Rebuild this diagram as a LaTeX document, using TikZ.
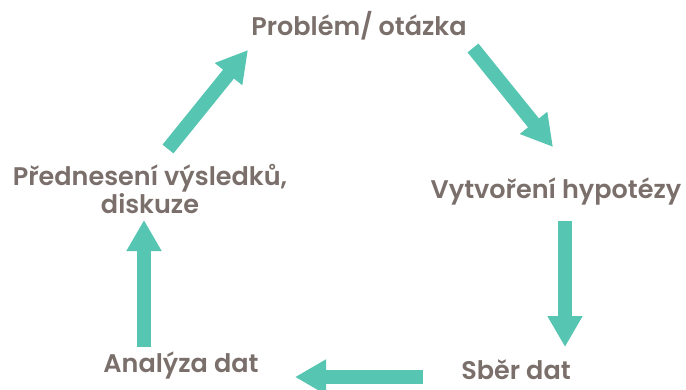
\documentclass[tikz,border=0pt]{standalone}
\usepackage{fontspec}
\setmainfont{Poppins}[BoldFont={Poppins SemiBold}]
\usetikzlibrary{arrows.meta}
\definecolor{txtgray}{RGB}{122,111,107}
\definecolor{teal}{RGB}{86,197,177}
\tikzset{
  lbl/.style={anchor=base, text=txtgray, font=\fontsize{25.5}{30}\selectfont\bfseries, inner sep=0pt},
  blockarrow/.style={draw=teal, line width=14pt, -{Triangle[length=31pt,width=33pt]}}
}
\begin{document}
\begin{tikzpicture}[x=1pt,y=-1pt]
\useasboundingbox (0,0) rectangle (686,389);
\node[lbl] (problem) at (359,35) {Problém/ otázka};
\node[lbl] (hypo) at (556,198) {Vytvoření hypotézy};
\node[lbl] (pred1) at (150,185) {Přednesení výsledků,};
\node[lbl] (pred2) at (150,213) {diskuze};
\node[lbl] (anal) at (181,372) {Analýza dat};
\node[lbl] (sber) at (516,379) {Sběr dat};
\coordinate (a1s) at (168,149);
\coordinate (a1e) at (248,50);
\coordinate (a2s) at (473,48);
\coordinate (a2e) at (553,147);
\coordinate (a3s) at (565,221);
\coordinate (a3e) at (565,347);
\coordinate (a4s) at (423,377);
\coordinate (a4e) at (295,377);
\coordinate (a5s) at (144,347);
\coordinate (a5e) at (144,220);
\draw[blockarrow] (a1s) -- (a1e);
\draw[blockarrow] (a2s) -- (a2e);
\draw[blockarrow] (a3s) -- (a3e);
\draw[blockarrow] (a4s) -- (a4e);
\draw[blockarrow] (a5s) -- (a5e);
\end{tikzpicture}
\end{document}
